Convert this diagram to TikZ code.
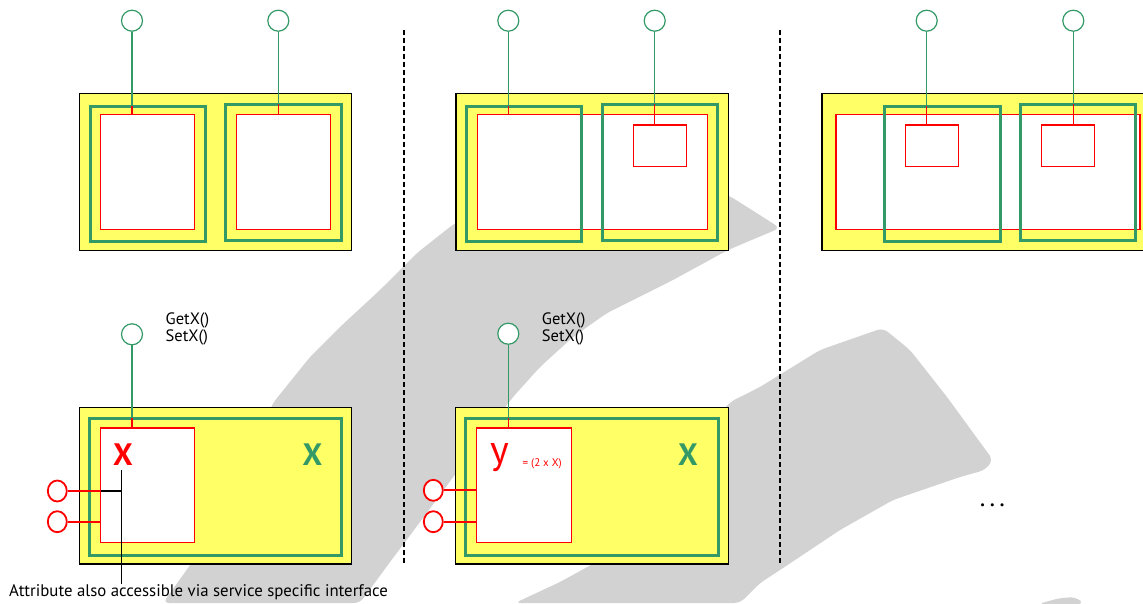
\documentclass[tikz,border=0pt]{standalone}
\usepackage{fontspec}
\setmainfont{PT Sans}
\usetikzlibrary{shapes.geometric}

\definecolor{ylw}{HTML}{FFFF66}
\definecolor{grn}{HTML}{339966}
\definecolor{wm}{HTML}{D2D2D2}

\tikzset{
  frame/.style={draw=black, line width=1.4pt, fill=ylw},
  scopebox/.style={draw=grn, line width=3pt},
  comp/.style={draw=red, line width=1.3pt, fill=white},
  attrbox/.style={draw=red, line width=1.3pt},
  port/.style={circle, draw=grn, line width=1.2pt, minimum size=21pt, inner sep=0pt, fill=white},
  iface/.style={ellipse, draw=red, line width=1.8pt, minimum width=19pt, minimum height=21pt, inner sep=0pt, fill=white},
  stemg/.style={draw=grn, line width=1.3pt},
  stemr/.style={draw=red, line width=1.3pt},
  ifline/.style={draw=red, line width=2pt},
  divider/.style={draw=black, line width=1.1pt, dash pattern=on 5pt off 3pt},
  shade/.style={fill=wm, draw=none, rounded corners=6pt},
  methods/.style={anchor=north west, inner sep=0pt, align=left,
                  font=\fontsize{16.5}{17}\selectfont},
  bigred/.style={text=red, font=\bfseries\fontsize{31}{31}\selectfont, inner sep=0pt},
  biggrn/.style={text=grn, font=\bfseries\fontsize{31}{31}\selectfont, inner sep=0pt},
}

% rectangle node given by its corners: style, name, x1, y1, x2, y2
\newcommand\blockat[6]{%
  \node[#1, anchor=north west, inner sep=0pt, outer sep=0pt,
        minimum width={#5-#3}, minimum height={#6-#4}] (#2) at (#3,#4) {};}
% stem from a port down through its scope box into a component
\newcommand\stemdown[3]{%
  \draw[stemg] (#1.south) -- (#1.south |- #2.north);
  \draw[stemr] (#1.south |- #2.north) -- (#1.south |- #3.north);}

\begin{document}
\begin{tikzpicture}[x=1pt, y=-1pt]
\clip (0,0) rectangle (1143,603);
\fill[white] (0,0) rectangle (1143,603);

% background brush strokes
\path[shade] (163,603) -- (213,533) -- (247,460) -- (273,403) -- (310,357)
  -- (340,327) -- (380,290) -- (417,253) -- (455,223) -- (520,198) -- (640,182)
  -- (728,195) -- (755,212) -- (780,228) -- (728,250) -- (673,280) -- (607,313)
  -- (573,337) -- (540,367) -- (513,397) -- (480,440) -- (451,480) -- (420,522)
  -- (390,562) -- (360,603) -- cycle;
\path[shade] (515,603) -- (560,582) -- (600,560) -- (650,500) -- (700,440)
  -- (730,402) -- (760,387) -- (820,350) -- (883,328) -- (910,350) -- (947,397)
  -- (993,460) -- (985,470) -- (960,477) -- (893,500) -- (840,530) -- (780,570)
  -- (760,583) -- (740,603) -- cycle;
\path[shade] (1038,604) -- (1060,598) -- (1076,597) -- (1084,604) -- cycle;

% column dividers
\coordinate (d1t) at (404,30);  \coordinate (d1b) at (404,563);
\coordinate (d2t) at (780,30);  \coordinate (d2b) at (780,563);
\draw[divider] (d1t) -- (d1b);
\draw[divider] (d2t) -- (d2b);

% ---------- top left: two separate components ----------
\blockat{frame}{p1}{79.3}{93.7}{351.7}{250.7}
\blockat{comp}{r11}{100.7}{114.7}{194.7}{229.7}
\blockat{comp}{r12}{236.7}{114.7}{330.7}{229.7}
\blockat{scopebox}{g11}{90}{106}{205.7}{241.7}
\blockat{scopebox}{g12}{225.7}{104.3}{341.7}{240.3}
\node[port] (c11) at (132,20.7) {};
\node[port] (c12) at (278.3,20.7) {};
\stemdown{c11}{g11}{r11}
\stemdown{c12}{g12}{r12}

% ---------- top middle ----------
\blockat{frame}{p2}{456}{93.7}{728.3}{250.7}
\blockat{comp}{r2}{477.3}{114.7}{707.3}{229.7}
\blockat{attrbox}{s2}{633.7}{125}{686.3}{166.7}
\blockat{scopebox}{g21}{466.7}{106}{581.7}{241.7}
\blockat{scopebox}{g22}{602.3}{104.3}{717.7}{240.3}
\node[port] (c21) at (508.3,20.7) {};
\node[port] (c22) at (654.7,20.7) {};
\stemdown{c21}{g21}{r2}
\stemdown{c22}{g22}{s2}

% ---------- top right ----------
\blockat{frame}{p3}{822}{93.7}{1152}{250.7}
\blockat{comp}{r3}{836}{114.7}{1140}{229.7}
\blockat{attrbox}{s31}{905.3}{125}{958.3}{166.7}
\blockat{attrbox}{s32}{1041.3}{125}{1094.3}{166.7}
\blockat{scopebox}{g31}{884.3}{106}{1000}{241.7}
\blockat{scopebox}{g32}{1020}{104.3}{1135.7}{240.3}
\node[port] (c31) at (926.7,20.7) {};
\node[port] (c32) at (1073.3,20.7) {};
\stemdown{c31}{g31}{s31}
\stemdown{c32}{g32}{s32}

% ---------- bottom left: attribute x ----------
\blockat{frame}{p4}{79.3}{407.3}{351.7}{564}
\blockat{scopebox}{g4}{89.3}{418.3}{341.7}{555}
\blockat{comp}{r4}{100.7}{428}{194.7}{542.7}
\node[port] (c4) at (132,334.3) {};
\stemdown{c4}{g4}{r4}
\node[methods] (m4) at (165.5,312.2) {GetX()\\SetX()};
\node[bigred, anchor=base] (x4) at (123,465.5) {X};
\node[biggrn, anchor=base] (gx4) at (312.5,465.5) {X};
\node[iface] (e41) at (57.3,491) {};
\node[iface] (e42) at (57.3,521.7) {};
\draw[ifline] (e41.east) -- (e41.east -| r4.west);
\draw[ifline] (e42.east) -- (e42.east -| r4.west);
\coordinate (tap) at (121.7,491);
\coordinate (xfoot) at (121.7,470);
\node[anchor=base west, inner sep=0pt,
      font=\fontsize{16.8}{18}\selectfont] (note) at (9,596)
      {Attribute also accessible via service specific interface};
\draw[black, line width=1.3pt] (e41.east -| r4.west) -- (tap);
\draw[black, line width=1.3pt] (note.north -| tap) -- (xfoot);

% ---------- bottom middle: derived attribute y ----------
\blockat{frame}{p5}{455.7}{407.3}{728.3}{564}
\blockat{scopebox}{g5}{465.7}{418.3}{718.3}{555.7}
\blockat{comp}{r5}{476.7}{428}{571.3}{542.7}
\node[port] (c5) at (508.3,333.7) {};
\stemdown{c5}{g5}{r5}
\node[methods] (m5) at (541.7,312.2) {GetX()\\SetX()};
\node[text=red, anchor=base, inner sep=0pt, font=\fontsize{40}{40}\selectfont] (y5) at (500,463) {y};
\node[text=red, anchor=base west, inner sep=0pt, font=\fontsize{11}{12}\selectfont] (eq5) at (522.5,466.5) {= (2 x X)};
\node[biggrn, anchor=base] (gx5) at (688,465.5) {X};
\node[iface] (e51) at (433.3,490.3) {};
\node[iface] (e52) at (433.3,521.7) {};
\draw[ifline] (e51.east) -- (e51.east -| r5.west);
\draw[ifline] (e52.east) -- (e52.east -| r5.west);

% ---------- bottom right ----------
\node[anchor=base, inner sep=0pt, font=\fontsize{26}{26}\selectfont] (more) at (992.5,506) {.\kern4.2pt.\kern4.2pt.};

\end{tikzpicture}
\end{document}
